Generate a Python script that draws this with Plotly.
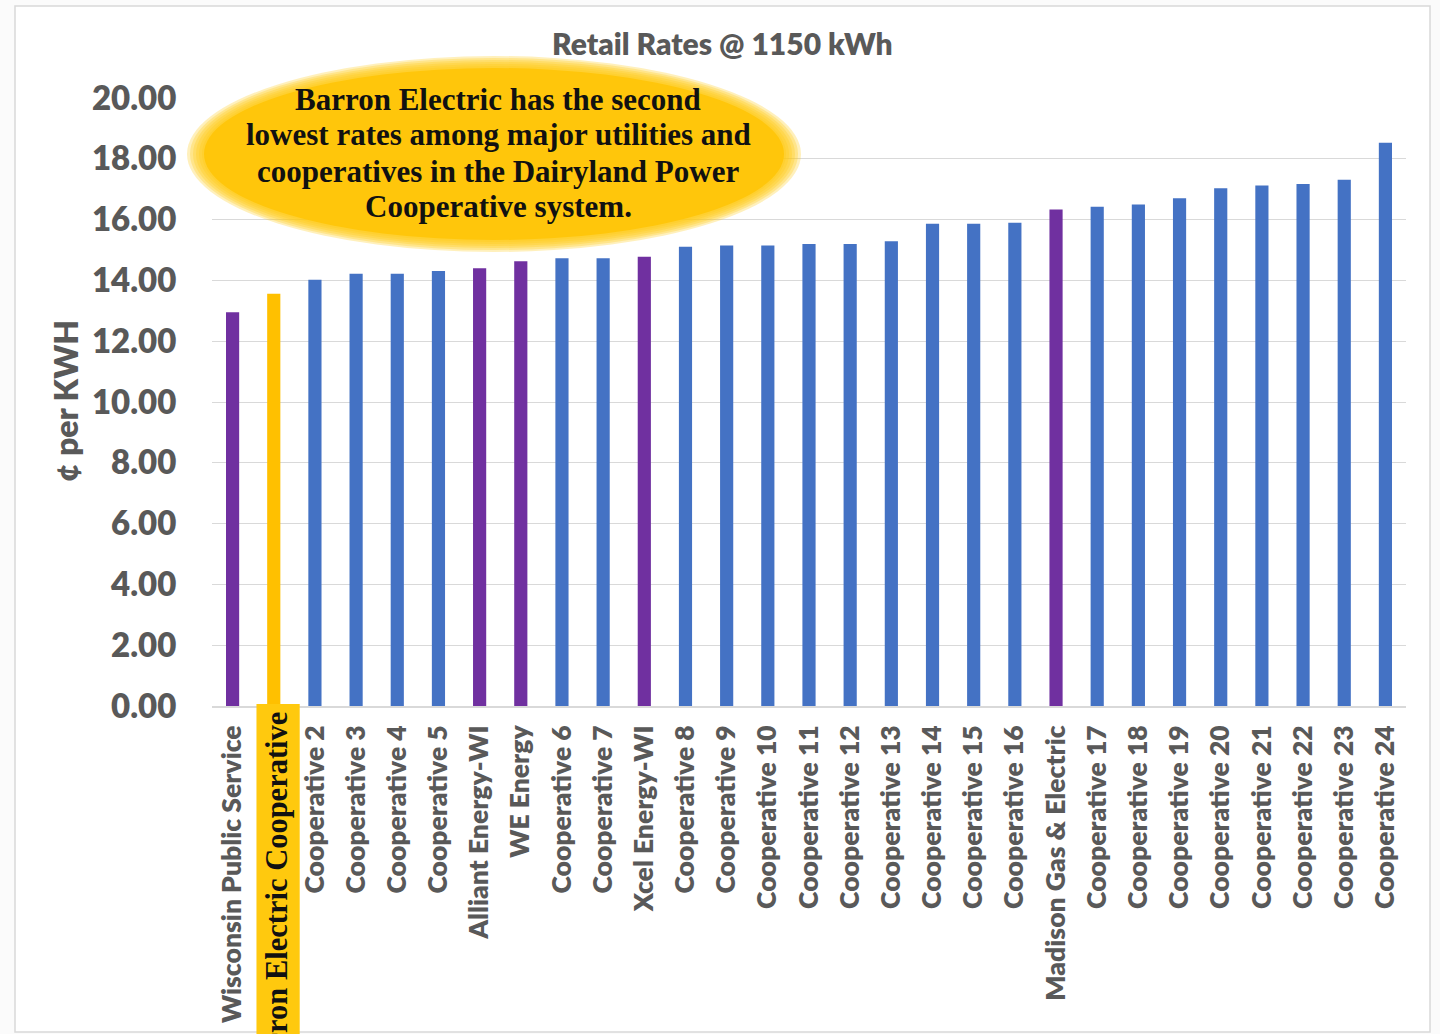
import plotly.graph_objects as go

categories = [
    "Wisconsin Public Service", "Barron Electric Cooperative", "Cooperative 2",
    "Cooperative 3", "Cooperative 4", "Cooperative 5", "Alliant Energy-WI",
    "WE Energy", "Cooperative 6", "Cooperative 7", "Xcel Energy-WI",
    "Cooperative 8", "Cooperative 9", "Cooperative 10", "Cooperative 11",
    "Cooperative 12", "Cooperative 13", "Cooperative 14", "Cooperative 15",
    "Cooperative 16", "Madison Gas & Electric", "Cooperative 17",
    "Cooperative 18", "Cooperative 19", "Cooperative 20", "Cooperative 21",
    "Cooperative 22", "Cooperative 23", "Cooperative 24",
]
rates = [
    12.95, 13.56, 14.02, 14.22, 14.22, 14.31, 14.40, 14.63, 14.73, 14.73,
    14.78, 15.11, 15.15, 15.15, 15.20, 15.20, 15.29, 15.86, 15.86, 15.90,
    16.33, 16.42, 16.50, 16.70, 17.03, 17.12, 17.17, 17.31, 18.53,
]
utility_type = [
    "utility", "barron", "coop", "coop", "coop", "coop", "utility", "utility",
    "coop", "coop", "utility", "coop", "coop", "coop", "coop", "coop", "coop",
    "coop", "coop", "coop", "utility", "coop", "coop", "coop", "coop", "coop",
    "coop", "coop", "coop",
]
y_ticks = [0, 2, 4, 6, 8, 10, 12, 14, 16, 18, 20]

title_text = "Retail Rates @ 1150 kWh"
axis_title = "¢ per KWH"
callout_lines = [
    "Barron Electric has the second",
    "lowest rates among major utilities and",
    "cooperatives in the Dairyland Power",
    "Cooperative system.",
]
highlight_name = "Barron Electric Cooperative"

type_colors = {"utility": "#7030A0", "barron": "#FFC000", "coop": "#4472C4"}
bar_colors = [type_colors[t] for t in utility_type]

W, H = 1440, 1034
L, R, T, B = 212, 34, 98, 328
PW, PH = W - L - R, H - T - B


def px2x(px):
    return (px - L) / PW


def py2y(py):
    return (H - B - py) / PH


GRAY = "#595959"
SANS = "Lato, 'Open Sans', sans-serif"
SERIF = "'Liberation Serif', 'DejaVu Serif', serif"
SANS_W = 800

ticktext = ["" if c == highlight_name else c for c in categories]

fig = go.Figure()
fig.add_trace(go.Bar(
    x=categories, y=rates, marker=dict(color=bar_colors, line=dict(width=0)),
    showlegend=False, hoverinfo="x+y",
))

shapes = []
# outer frame
shapes.append(dict(type="rect", xref="paper", yref="paper",
                   x0=px2x(15), x1=px2x(1430), y0=py2y(1032), y1=py2y(6),
                   line=dict(color="#d9d9d9", width=1.5), fillcolor="white",
                   layer="below"))
# soft yellow ellipse
cx, cy = 494, 154
for k in range(6):
    rx = 307 - k * 3
    ry = 98 - k * 2.0
    shapes.append(dict(type="circle", xref="paper", yref="paper",
                       x0=px2x(cx - rx), x1=px2x(cx + rx),
                       y0=py2y(cy + ry), y1=py2y(cy - ry),
                       line=dict(width=0), fillcolor="#FFC90E", opacity=0.28,
                       layer="above"))
rx, ry = 290, 86
shapes.append(dict(type="circle", xref="paper", yref="paper",
                   x0=px2x(cx - rx), x1=px2x(cx + rx),
                   y0=py2y(cy + ry), y1=py2y(cy - ry),
                   line=dict(width=0), fillcolor="#FFC60B", layer="above"))
# highlight box behind the Barron label
hi = categories.index(highlight_name)
shapes.append(dict(type="rect", xref="x", yref="paper",
                   x0=hi - 0.42, x1=hi + 0.63, y0=py2y(1060), y1=py2y(704),
                   line=dict(width=0), fillcolor="#FFC90E", layer="above"))

annotations = [
    dict(text=title_text, xref="paper", yref="paper", x=px2x(722), y=py2y(43),
         showarrow=False, xanchor="center", yanchor="middle",
         font=dict(family=SANS, size=30, color=GRAY, weight=SANS_W)),
    dict(text=axis_title, xref="paper", yref="paper", x=px2x(65), y=py2y(401),
         showarrow=False, xanchor="center", yanchor="middle", textangle=-90,
         font=dict(family=SANS, size=32, color=GRAY, weight=SANS_W)),
    dict(text=highlight_name, xref="x", yref="paper", x=hi + 0.08, y=py2y(711),
         showarrow=False, xanchor="center", yanchor="top", textangle=-90,
         borderpad=0,
         font=dict(family=SERIF, size=30.5, color="#111111", weight="bold")),
]
line_y = [99, 135, 171, 206]
for txt, ly in zip(callout_lines, line_y):
    annotations.append(dict(
        text=txt, xref="paper", yref="paper", x=px2x(498), y=py2y(ly),
        showarrow=False, xanchor="center", yanchor="middle",
        font=dict(family=SERIF, size=31, color="#111111", weight="bold")))

fig.update_layout(
    width=W, height=H,
    margin=dict(l=L, r=R, t=T, b=B, pad=0),
    paper_bgcolor="#fbfbfb", plot_bgcolor="rgba(0,0,0,0)",
    bargap=0.68,
    shapes=shapes, annotations=annotations,
    xaxis=dict(type="category", tickmode="array", tickvals=categories,
               ticktext=ticktext, tickangle=-90, showgrid=False,
               showline=True, linecolor="#d9d9d9", linewidth=1.5,
               ticks="outside", ticklen=7, tickcolor="rgba(0,0,0,0)",
               tickfont=dict(family=SANS, size=26.5, color=GRAY, weight=SANS_W),
               automargin=False),
    yaxis=dict(range=[0, 20], tickmode="array", tickvals=y_ticks,
               tickformat=".2f", showgrid=True, gridcolor="#d9d9d9",
               gridwidth=1.2, zeroline=False, showline=False,
               ticks="outside", ticklen=28, tickcolor="rgba(0,0,0,0)",
               tickfont=dict(family=SANS, size=33, color=GRAY, weight=SANS_W),
               automargin=False),
)

fig.write_html("out.html", config={"displayModeBar": False},
               post_script="document.body.style.margin='0';document.body.style.overflow='hidden';")
